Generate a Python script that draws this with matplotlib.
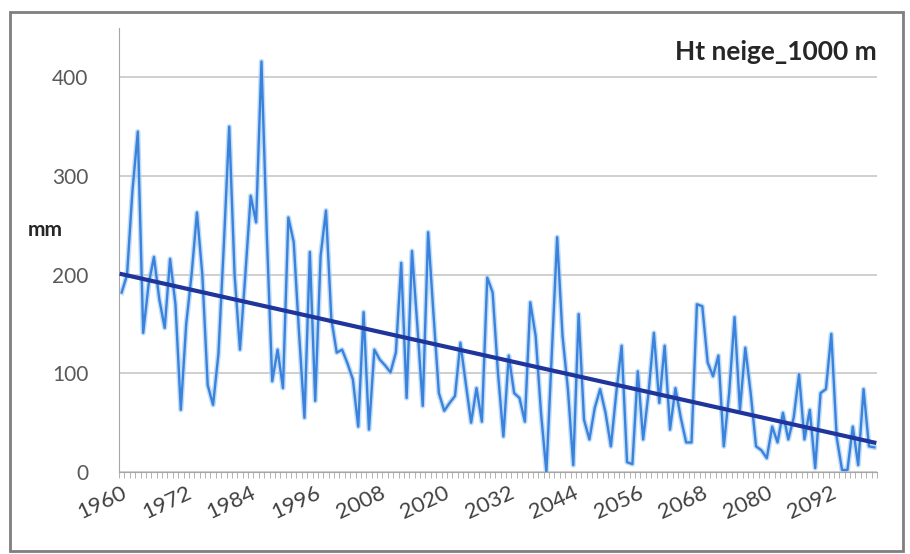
import matplotlib.pyplot as plt
import matplotlib.patches as patches
import numpy as np

# annees et hauteur de neige (mm)
annees = list(range(1960, 2101))
neige = [182, 200, 285, 345, 141, 190, 218, 175, 146, 216,
         170, 63, 150, 200, 263, 200, 88, 68, 120, 230,
         350, 200, 124, 200, 280, 253, 416, 240, 92, 124,
         85, 258, 233, 140, 55, 223, 72, 219, 265, 155,
         121, 124, 110, 94, 46, 162, 43, 124, 114, 108,
         101, 121, 212, 75, 224, 148, 67, 243, 160, 80,
         62, 70, 77, 131, 90, 50, 85, 51, 197, 182,
         100, 36, 118, 80, 75, 51, 172, 138, 60, 0,
         120, 238, 138, 84, 7, 160, 53, 33, 65, 84,
         60, 26, 80, 128, 10, 8, 102, 33, 80, 141,
         70, 128, 43, 85, 55, 30, 30, 170, 168, 111,
         97, 118, 26, 80, 157, 63, 126, 80, 26, 22,
         14, 46, 30, 60, 33, 55, 99, 33, 63, 4,
         80, 84, 140, 35, 2, 2, 46, 7, 84, 26,
         25]
yticks = [0, 100, 200, 300, 400]
titre = "Ht neige_1000 m"

x = np.arange(len(annees))
pente, origine = np.polyfit(x, neige, 1)
tendance = pente * x + origine

plt.rcParams['font.family'] = ['Lato', 'DejaVu Sans']

fig = plt.figure(figsize=(9.1, 5.54), dpi=100)
ax = fig.add_axes([119 / 910, 82 / 554, 758 / 910, 444 / 554])

# ligne "glow" puis serie puis tendance
ax.plot(x, neige, color='#a8d0f5', lw=3.8, alpha=0.7, zorder=2)
ax.plot(x, neige, color='#3b82dc', lw=1.7, zorder=3)
ax.plot(x, tendance, color='#1f359c', lw=3, zorder=4)

ax.set_xlim(-0.5, len(annees) - 0.5)
ax.set_ylim(0, 450)
ax.set_yticks(yticks)
ax.set_yticklabels([str(v) for v in yticks])
ax.yaxis.grid(True, color='#cfcfcf', lw=1.4)
ax.set_axisbelow(True)

pos = list(range(0, len(annees), 12))
ax.set_xticks(pos)
ax.set_xticklabels([str(annees[i]) for i in pos], rotation=25, ha='right', va='top',
                   rotation_mode='anchor')
ax.set_xticks(np.arange(-0.5, len(annees), 1), minor=True)
ax.tick_params(axis='x', which='major', length=0, pad=8, labelsize=16, colors='#404040')
ax.tick_params(axis='x', which='minor', length=4, color='#a6a6a6')
ax.tick_params(axis='y', length=0, pad=22, labelsize=15, colors='#595959')

for s in ['top', 'right']:
    ax.spines[s].set_visible(False)
ax.spines['left'].set_color('#a6a6a6')
ax.spines['bottom'].set_color('#a6a6a6')

ax.text(1.0, 0.945, titre, transform=ax.transAxes, ha='right', va='center',
        fontsize=19, fontweight='bold', color='#262626')
fig.text(45 / 910, 1 - 230 / 554, "mm", ha='center', va='center',
         fontsize=15, fontweight='bold', color='#262626')

# cadre du graphique
fig.patches.append(patches.Rectangle((10 / 910, 3 / 554), 893 / 910, 539 / 554,
                                     transform=fig.transFigure, fill=False,
                                     edgecolor='#7f7f7f', lw=2))

plt.savefig("out.png", dpi=100)
